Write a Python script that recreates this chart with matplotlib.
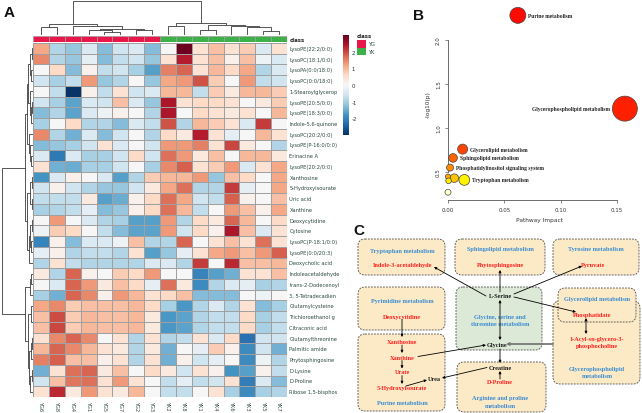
import numpy as np
import matplotlib
matplotlib.use("Agg")
import matplotlib.pyplot as plt
from matplotlib.patches import FancyBboxPatch, Rectangle
from matplotlib.cm import ScalarMappable
from matplotlib.colors import Normalize

plt.rcParams["axes.unicode_minus"] = False

# ---------------- DATA ----------------
samples = ["YG6", "YG8", "YG4", "YG1", "YG5", "YG7", "YG2", "YG3",
           "YK2", "YK8", "YK1", "YK4", "YK6", "YK3", "YK5", "YK7"]
sample_class = ["YG"] * 8 + ["YK"] * 8
metabolites = ["LysoPE(22:2/0:0)", "LysoPC(18:1/0:0)", "LysoPA(0:0/18:0)", "LysoPC(0:0/18:0)",
               "1-Stearoylglycerop", "LysoPE(20:5/0:0)", "LysoPE(18:3/0:0)", "Indole-5,6-quinone",
               "LysoPC(20:2/0:0)", "LysoPE(P-16:0/0:0)", "Erinacine A", "LysoPE(20:2/0:0)",
               "Xanthosine", "5-Hydroxyisourate", "Uric acid", "Xanthine", "Deoxycytidine",
               "Cytosine", "LysoPC(P-18:1/0:0)", "LysoPE(0:0/20:3)", "Deoxycholic acid",
               "Indoleacetaldehyde", "trans-2-Dodecenoyl", "3, 5-Tetradecadien", "Glutamylcysteine",
               "Trichloroethanol g", "Citraconic acid", "Glutamylthreonine", "Palmitic amide",
               "Phytosphingosine", "D-Lysine", "D-Proline", "Ribose 1,5-bisphos"]
zscores = np.array([
    [1.15, -0.9, -1.15, -0.45, -1.3, -0.6, -0.45, -1.3, 0.0, 2.95, 0.45, 0.9, 0.45, 0.75, -0.45, 0.45],
    [1.45, -0.9, -1.15, -0.3, -1.3, -0.75, -0.6, -1.15, 0.45, 2.35, 0.45, 0.9, 0.15, 0.9, -0.15, -0.45],
    [0.0, 0.6, -1.3, 0.15, -0.75, -0.6, -1.0, -1.65, 1.5, 1.75, 0.45, 1.0, 0.6, 1.15, -0.9, -0.45],
    [-0.6, -1.0, -0.75, 1.3, -1.15, -0.9, 0.0, -1.15, 1.15, 1.3, 1.9, 0.75, 0.0, 1.3, -0.75, -0.6],
    [0.0, -0.75, -2.95, 0.15, -0.75, 0.45, -0.6, -0.45, 1.0, 1.0, -0.75, 0.75, 0.3, 1.0, 1.0, 0.75],
    [-0.6, -1.0, -1.6, -0.45, -0.6, 0.9, -0.45, -1.15, 2.45, 0.45, 0.6, 0.6, 0.45, 0.0, 0.3, 0.75],
    [-1.3, -0.9, -1.6, -0.45, -0.15, 0.15, 0.0, -0.9, 2.45, 0.0, 0.6, 0.45, 0.3, 0.45, 0.0, 1.0],
    [-1.0, 0.0, 0.6, -0.9, -0.9, -1.3, -0.45, -0.75, 1.9, -0.9, 1.0, 0.75, 0.45, -0.45, 2.1, 0.0],
    [1.45, -0.9, -1.45, -0.45, -1.3, -0.6, 0.0, -0.9, 0.6, 0.3, 2.35, 0.45, -0.3, 0.0, 1.0, 0.45],
    [-1.3, -1.15, -1.0, -0.6, 0.45, -0.45, 0.0, -0.6, 1.3, 1.3, 1.5, 0.45, 2.0, 0.3, 0.0, -0.9],
    [-0.45, -2.15, -0.45, -1.0, -1.0, -0.6, 0.6, -0.6, 1.65, 1.3, 0.3, 0.9, 0.0, 1.0, 1.0, 0.3],
    [0.45, -1.45, -1.5, -1.0, -1.0, -0.6, 0.0, -1.0, 1.45, 1.8, 0.45, 0.75, 1.3, -0.45, 0.45, 1.15],
    [-1.8, -0.45, 0.15, 0.0, -0.45, -1.65, -0.9, 0.75, 1.0, 1.0, 1.3, -1.15, 0.9, 0.6, 0.0, 1.15],
    [-0.6, 0.15, -0.6, -0.9, -1.15, -1.15, -0.6, 0.3, 1.15, 1.65, -0.9, -0.9, 2.1, -0.3, 0.0, 1.15],
    [-0.75, -0.75, -0.75, 0.3, -1.65, -1.5, 0.15, 0.6, 1.65, 1.15, -0.6, -0.75, 1.8, 0.15, 0.0, 0.9],
    [-1.0, -0.9, -0.75, -0.3, -1.3, -1.15, 0.15, 0.6, 1.65, 1.0, -0.75, 0.0, 1.3, 0.9, 0.15, 1.15],
    [0.0, 1.3, 0.0, -0.45, -0.9, -1.0, -1.65, -1.65, 1.3, -0.9, 0.6, 0.3, 1.75, 1.0, 0.0, 0.6],
    [-0.15, 0.75, 0.6, 0.0, -0.75, -1.3, -1.6, -1.6, 1.3, -0.6, 0.6, 0.15, 2.45, 0.9, -0.45, 0.45],
    [-2.0, 0.15, -1.3, -0.45, -0.45, -0.15, 0.9, -0.9, -0.9, 1.75, 0.0, 0.45, 0.9, 0.45, 1.65, 0.45],
    [-0.3, 0.15, -0.9, -0.75, -0.75, -0.9, 0.45, -1.65, -1.15, -0.3, 0.45, 1.15, 1.3, 0.9, 1.3, 1.8],
    [-0.9, 0.45, -0.75, -0.9, -0.9, -0.9, -0.9, -0.45, -0.45, -0.9, 2.1, 0.0, 2.25, 0.9, 0.9, 1.0],
    [0.3, -0.9, 1.75, 0.15, 0.0, 0.75, 0.6, 1.3, 0.0, 0.0, -2.0, -1.65, -1.45, 0.45, 0.45, 0.9],
    [0.0, -0.45, 1.75, 1.3, 0.3, 0.9, 0.6, -0.3, 1.65, 0.3, -1.9, -0.9, -0.45, -0.3, -1.0, -0.9],
    [-1.0, -1.45, 1.75, 1.45, 0.15, 1.3, 1.0, 0.45, 0.6, 0.9, -1.3, -1.3, -1.3, 0.0, -0.15, 0.0],
    [1.15, 1.45, 0.75, 0.9, 0.9, 0.9, 1.0, 0.6, -1.0, -1.75, -0.9, -0.45, -0.9, 0.45, -1.3, -1.0],
    [0.9, 1.95, 0.75, 1.0, 0.9, 0.9, 1.0, 0.3, -1.75, -1.6, -0.9, -0.75, -0.75, 0.6, -1.0, -0.75],
    [0.9, 2.0, 0.75, 1.0, 0.9, 0.9, 1.0, 0.3, -1.75, -1.6, -0.9, -0.75, -0.75, 0.6, -1.0, -0.75],
    [0.45, 1.45, 1.75, 1.45, 0.0, 0.45, -0.9, 0.45, -0.9, -0.75, 0.45, -0.45, 0.6, -2.25, -0.6, -0.6],
    [1.0, 1.75, 1.45, 1.0, 0.45, 0.3, -0.9, 0.3, -1.45, 0.0, -0.3, 0.75, 0.15, -1.9, -0.6, -1.45],
    [1.5, 1.8, 0.9, 0.9, 0.15, 0.45, -0.9, 0.45, -1.45, 0.15, -0.6, -0.3, 0.0, -1.9, -0.15, -0.9],
    [-1.45, 0.45, 1.65, 1.75, 0.3, 0.9, 0.0, 0.6, 0.3, -0.6, 0.45, 0.15, -1.8, -1.65, 0.15, -0.75],
    [-0.6, 0.9, 1.6, 1.65, 0.45, 1.3, 0.45, 0.0, -0.75, -0.3, -0.75, -0.6, 0.45, -2.1, -0.45, -1.3],
    [0.45, 2.25, 0.3, 1.3, 0.45, 0.3, 1.0, 0.0, -0.75, -0.75, 0.0, 0.45, -1.0, -1.9, -1.0, -0.9],
])
# dendrograms as (left, right, merge height) trees over leaf indices
col_tree = (((0, 1, 7.7), (2, ((3, (4, 5, 3.3), 5.3), (6, 7, 5.3), 6.5), 8.7), 11),
            ((8, 9, 8.7), ((10, 11, 5.3), (12, (13, (14, 15, 4.3), 7.7), 9.3), 10), 12), 33.7)
row_upper = (((((0, 1, 1.5), (2, 3, 2), 3.5), (4, ((5, 6, 1), 7, 2.5), 3.5), 5),
              (8, (9, (10, 11, 2), 3), 4), 6),
             (((12, 13, 1.5), (14, 15, 1.5), 3), (((16, 17, 1), (18, 19, 2), 3), 20, 4), 6.5), 8)
row_lower = (((21, 22, 2), 23, 3.5),
             ((24, (25, 26, 0.5), 2), (((27, 28, 1.5), 29, 2.5), ((30, 31, 1.5), 32, 3), 4), 5), 8)
row_tree = (row_upper, row_lower, 31)

# Panel B: pathway analysis
pathway_names = ["Purine metabolism", "Glycerophospholipid metabolism", "Glycerolipid metabolism",
                 "Sphingolipid metabolism", "Phosphatidylinositol signaling system",
                 "Tryptophan metabolism", "", "", "", ""]
impact = [0.062, 0.157, 0.013, 0.0045, 0.0018, 0.0145, 0.0056, 0.0, 0.0005, 0.0]
neglogp = [2.28, 1.22, 0.76, 0.66, 0.55, 0.41, 0.43, 0.447, 0.40, 0.27]
bubble_radius = [8.0, 12.5, 5.0, 4.3, 3.5, 5.4, 4.3, 2.6, 2.8, 3.0]
bubble_color = ["#FF0A00", "#FF2000", "#FF4500", "#FF6300", "#FF8A00", "#FFF200",
                "#FFC400", "#FFA800", "#FFEE00", "#FFFFC8"]
label_side = ["right", "left", "right", "right", "right", "right", "", "", "", ""]

W, H = 642, 414
fig = plt.figure(figsize=(W / 100, H / 100), dpi=100)


def add_ax(x0, y0, x1, y1, **kw):
    return fig.add_axes([x0 / W, 1 - y1 / H, (x1 - x0) / W, (y1 - y0) / H], **kw)


cmap = plt.get_cmap("RdBu_r")
vmin, vmax = -3, 3
lab_col = "#2b4a3c"

# ---------------- Panel A: heatmap ----------------
nr, nc = zscores.shape
axh = add_ax(33, 44, 287, 398)
axh.pcolormesh(np.arange(nc + 1), np.arange(nr + 1), zscores, cmap=cmap, vmin=vmin, vmax=vmax,
               edgecolors="#a0a0a0", linewidth=0.45)
axh.set_xlim(0, nc)
axh.set_ylim(nr, 0)
axh.axis("off")
for i, name in enumerate(metabolites):
    axh.text(nc + 0.15, i + 0.5, name, ha="left", va="center", fontsize=3.7, color=lab_col,
             clip_on=False)
for j, s in enumerate(samples):
    axh.text(j + 0.5, nr + 0.25, s, ha="center", va="top", rotation=270, fontsize=3.7,
             color=lab_col, clip_on=False)

# class annotation bar
class_colors = {"YG": "#E8174A", "YK": "#3DB049"}
axc = add_ax(33, 37, 287, 43)
for j, c in enumerate(sample_class):
    axc.add_patch(Rectangle((j, 0), 1, 1, facecolor=class_colors[c], edgecolor="#a0a0a0", lw=0.45))
axc.set_xlim(0, nc)
axc.set_ylim(0, 1)
axc.axis("off")
axc.text(nc + 0.15, 0.5, "class", ha="left", va="center", fontsize=3.9, fontweight="bold",
         color="#222222", clip_on=False)


def draw_tree(ax, node, orient):
    if isinstance(node, int):
        return node + 0.5, 0.0
    left, right, h = node
    pl, hl = draw_tree(ax, left, orient)
    pr, hr = draw_tree(ax, right, orient)
    if orient == "top":
        ax.plot([pl, pl, pr, pr], [hl, h, h, hr], color="#3a3a3a", lw=0.6, solid_capstyle="butt")
    else:
        ax.plot([hl, h, h, hr], [pl, pl, pr, pr], color="#3a3a3a", lw=0.6, solid_capstyle="butt")
    return (pl + pr) / 2, h


axdc = add_ax(33, 0, 287, 36)
draw_tree(axdc, col_tree, "top")
axdc.set_xlim(0, nc)
axdc.set_ylim(0, 36)
axdc.axis("off")

axdr = add_ax(0, 44, 33, 398)
draw_tree(axdr, row_tree, "left")
axdr.set_ylim(nr, 0)
axdr.set_xlim(33, 0)
axdr.axis("off")

# colour key
axcb = add_ax(343, 36, 349, 136)
cb = fig.colorbar(ScalarMappable(norm=Normalize(vmin, vmax), cmap=cmap), cax=axcb,
                  ticks=[-2, -1, 0, 1, 2])
cb.outline.set_visible(False)
cb.ax.tick_params(length=0, pad=2, labelsize=3.9, labelcolor="#333333")

# class legend
axl = add_ax(354, 30, 400, 60)
axl.set_xlim(354, 400)
axl.set_ylim(60, 30)
axl.axis("off")
axl.text(357, 37, "class", fontsize=3.9, fontweight="bold", va="center", ha="left", color="#222")
for k, c in enumerate(["YG", "YK"]):
    axl.add_patch(Rectangle((357, 41 + 7.5 * k), 9, 7.5, facecolor=class_colors[c],
                            edgecolor="none"))
    axl.text(368, 44.8 + 7.5 * k, c, fontsize=3.7, va="center", ha="left", color=lab_col)

# ---------------- Panel B: bubble plot ----------------
axb = add_ax(448, 8, 630, 201)
x_per_px = 0.15 / (617 - 448)
y_per_px = 1.5 / (173 - 41)
axb.set_xlim(0, (630 - 448) * x_per_px)
axb.set_ylim(0.5 - (201 - 173) * y_per_px, 2.0 + (41 - 8) * y_per_px)
axb.patch.set_alpha(0)
sizes = [(2 * r * 0.72) ** 2 for r in bubble_radius]
axb.scatter(impact, neglogp, s=sizes, c=bubble_color, edgecolors="#444444", linewidths=0.5,
            zorder=3, clip_on=False)
for name, xv, yv, r, side in zip(pathway_names, impact, neglogp, bubble_radius, label_side):
    if not name:
        continue
    off = (r + 2.5) * 0.72
    sign = 1 if side == "right" else -1
    axb.annotate(name, (xv, yv), xytext=(sign * off, 0), textcoords="offset points",
                 ha="left" if side == "right" else "right", va="center", fontsize=4.0,
                 fontweight="bold", family="Liberation Serif", color="#222222")
for sp in ["top", "right"]:
    axb.spines[sp].set_visible(False)
axb.spines["left"].set_bounds(0.5, 2.0)
axb.spines["bottom"].set_bounds(0.0, 0.15)
for sp in ["left", "bottom"]:
    axb.spines[sp].set_color("#555555")
    axb.spines[sp].set_linewidth(0.6)
axb.set_xticks([0.0, 0.05, 0.10, 0.15])
axb.set_xticklabels(["0.00", "0.05", "0.10", "0.15"])
axb.set_yticks([0.5, 1.0, 1.5, 2.0])
axb.set_yticklabels(["0.5", "1.0", "1.5", "2.0"], rotation=90, va="center")
axb.tick_params(length=2.5, width=0.5, color="#555555", labelsize=4.0, labelcolor="#333333",
                pad=2.5)
axb.set_xlabel("Pathway Impact", fontsize=4.2, color="#333333", labelpad=4)
axb.set_ylabel("-log10(p)", fontsize=4.2, color="#333333", labelpad=4)

# ---------------- Panel C: pathway network ----------------
axn = add_ax(330, 225, 642, 414)
axn.set_xlim(330, 642)
axn.set_ylim(414, 225)
axn.axis("off")
peach = "#FCEAC6"
green = "#DCE9D6"
boxes = [
    (358, 240, 445, 276, peach), (455, 240, 545, 276, peach), (553, 240, 639, 276, peach),
    (358, 288, 445, 331, peach), (358, 335, 445, 412, peach), (456, 288, 542, 351, green),
    (553, 302, 640, 385, peach), (558, 289, 636, 323, peach), (457, 363, 546, 413, peach),
]
for x0, y0, x1, y1, fc in boxes:
    axn.add_patch(FancyBboxPatch((x0, y0), x1 - x0, y1 - y0,
                                 boxstyle="round,pad=0,rounding_size=7", facecolor=fc,
                                 edgecolor="#4a4a4a", lw=0.6, ls=(0, (2.2, 1.4))))
blue = "#3A8BD2"
red = "#FF1E1E"
blk = "#1a1a1a"
texts = [
    (402, 251, "Tryptophan metabolism", blue), (402, 266, "Indole-3-acetaldehyde", red),
    (500, 250, "Sphingolipid metabolism", blue), (500, 266, "Phytosphingosine", red),
    (596, 250, "Tyrosine metabolism", blue), (593, 266, "Pyruvate", red),
    (402, 301, "Pyrimidine metabolism", blue), (402, 317, "Deoxycytidine", red),
    (500, 297, "L-Serine", blk), (500, 317, "Glycine, serine and", blue),
    (500, 324.5, "threonine metabolism", blue), (597, 299, "Glycerolipid metabolism", blue),
    (592, 315, "Phosphatidate", red), (597, 339, "1-Acyl-sn-glycero-3-", red),
    (597, 346.5, "phosphocholine", red), (597, 369, "Glycerophospholipid", blue),
    (597, 377, "metabolism", blue), (402, 342, "Xanthosine", red), (402, 358, "Xanthine", red),
    (402, 373, "Urate", red), (402, 389, "5-Hydroxyisourate", red),
    (402, 404, "Purine metabolism", blue), (497, 346, "Glycine", blk), (500, 368, "Creatine", blk),
    (500, 383, "D-Proline", red), (434, 379.5, "Urea", blk), (500, 399, "Arginine and proline", blue),
    (500, 406.5, "metabolism", blue),
]
for x, y, t, c in texts:
    axn.text(x, y, t, ha="center", va="center", fontsize=4.5, fontweight="bold",
             family="Liberation Serif", color=c)

arrows = [
    ((486, 297), (434, 268), "-|>", "k", 0.6), ((500, 293), (500, 271), "-|>", "k", 0.6),
    ((514, 295), (582, 267), "-|>", "k", 0.6), ((514, 298), (576, 313), "-|>", "k", 0.6),
    ((500, 301), (500, 341), "<|-|>", "k", 0.6), ((586, 319), (586, 335), "<|-|>", "k", 0.6),
    ((553, 345), (506, 345), "-|>", "#777777", 1.3), ((418, 357.5), (486, 346), "-|>", "k", 0.6),
    ((500, 350), (500, 364), "-|>", "k", 0.6), ((500, 380), (500, 372), "-|>", "k", 0.6),
    ((487, 368.5), (442, 379), "-|>", "k", 0.6), ((406, 387), (427, 381), "-|>", "k", 0.6),
    ((402, 320.5), (402, 338), "-|>", "k", 0.6), ((402, 346), (402, 354), "-|>", "k", 0.6),
    ((402, 361.5), (402, 369.5), "-|>", "k", 0.6), ((402, 376.5), (402, 385), "-|>", "k", 0.6),
]
for (xa, ya), (xb, yb), st, c, lw in arrows:
    axn.annotate("", xy=(xb, yb), xytext=(xa, ya),
                 arrowprops=dict(arrowstyle=st, color=c, lw=lw, mutation_scale=3.5,
                                 shrinkA=0, shrinkB=0))

# panel letters
for x, y, t in [(9, 13, "A"), (419, 16, "B"), (359, 231, "C")]:
    fig.text(x / W, 1 - y / H, t, fontsize=11, fontweight="bold", family="Liberation Sans",
             ha="center", va="center", color="#111111")

fig.savefig("out.png", dpi=100)
